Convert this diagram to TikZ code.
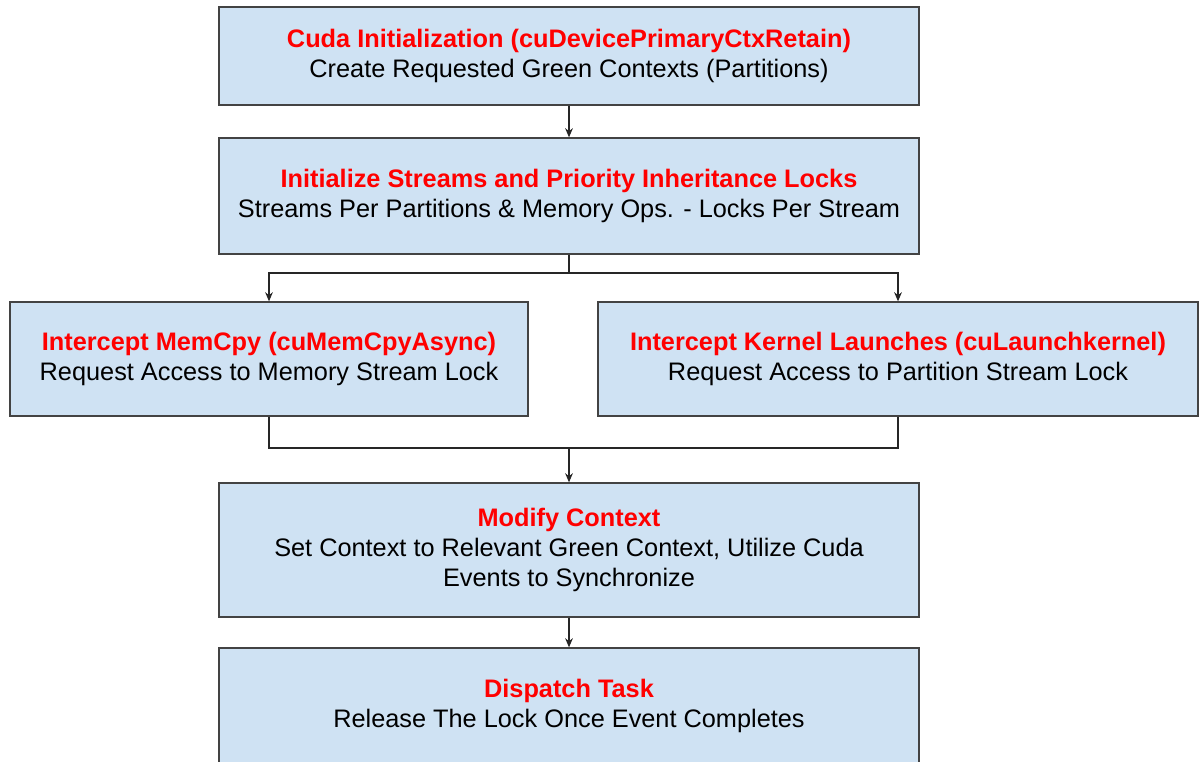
\documentclass[tikz,border=0pt]{standalone}
\usepackage{fontspec}
\setmainfont{Liberation Sans}
\usetikzlibrary{arrows.meta, positioning}

\definecolor{boxfill}{HTML}{CFE2F3}
\definecolor{boxline}{HTML}{434343}
\definecolor{titlered}{HTML}{FF0000}

\newcommand{\steptitle}[1]{\textcolor{titlered}{\textbf{#1}}}

\begin{document}
\begin{tikzpicture}[
    x=0.025cm, y=-0.025cm,
    block/.style={rectangle, draw=boxline, fill=boxfill, line width=0.9pt, align=center, inner sep=0pt,
        font=\fontsize{18}{21.3}\selectfont},
    line/.style={draw=black!85, line width=0.9pt},
    arrow/.style={line, -{Stealth[length=6.5pt, width=5.5pt]}}
]
    \useasboundingbox (0,0) rectangle (1200,761);

    \node[block, minimum width=17.5cm, minimum height=2.45cm] (t1) at (569,56)
        {\steptitle{Cuda Initialization (cuDevicePrimaryCtxRetain)}\\ Create Requested Green Contexts (Partitions)};
    \node[block, minimum width=17.5cm, minimum height=2.9cm] (t2) at (569,196)
        {\steptitle{Initialize Streams and Priority Inheritance Locks}\\ Streams Per Partitions \& Memory Ops. - Locks Per Stream};
    \node[block, minimum width=12.95cm, minimum height=2.85cm] (t3) at (269,359)
        {\steptitle{Intercept MemCpy (cuMemCpyAsync)}\\ Request Access to Memory Stream Lock};
    \node[block, minimum width=15cm, minimum height=2.85cm] (t4) at (898,359)
        {\steptitle{Intercept Kernel Launches (cuLaunchkernel)}\\ Request Access to Partition Stream Lock};
    \node[block, minimum width=17.5cm, minimum height=3.35cm] (t5) at (569,550)
        {\steptitle{Modify Context}\\ Set Context to Relevant Green Context, Utilize Cuda\\ Events to Synchronize};
    \node[block, minimum width=17.5cm, minimum height=2.9cm] (t6) at (569,706)
        {\steptitle{Dispatch Task}\\ Release The Lock Once Event Completes};

    \coordinate (split) at (569,273);
    \coordinate (merge) at (569,448);

    \draw[arrow] (t1) -- (t2);
    \draw[line] (t2) -- (split);
    \draw[arrow] (split) -| (t3);
    \draw[arrow] (split) -| (t4);
    \draw[line] (t3) |- (merge) -| (t4);
    \draw[arrow] (merge) -- (t5);
    \draw[arrow] (t5) -- (t6);
\end{tikzpicture}
\end{document}
